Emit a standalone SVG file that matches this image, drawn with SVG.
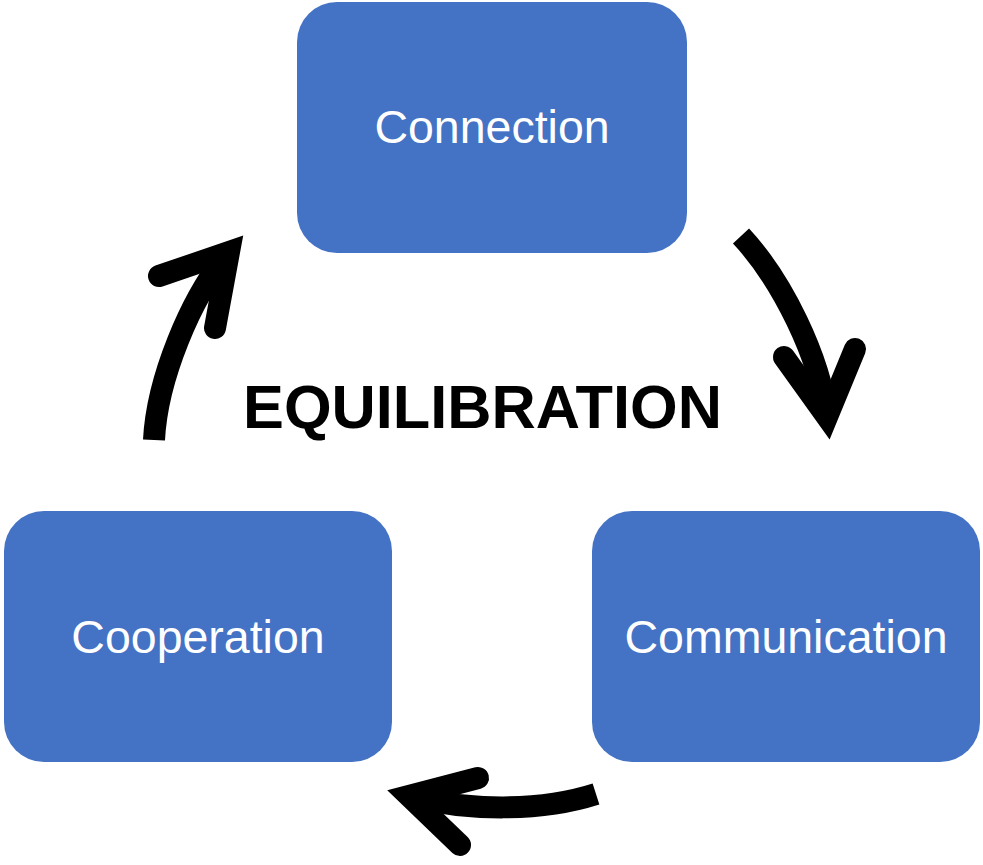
<svg xmlns="http://www.w3.org/2000/svg" width="983" height="865" viewBox="0 0 983 865">
<style>
.box{fill:#4472C4;}
.lbl{font-family:"Liberation Sans",Arial,sans-serif;font-size:46.5px;fill:#ffffff;text-anchor:middle;}
.title{font-family:"Liberation Sans",Arial,sans-serif;font-size:62px;font-weight:bold;fill:#000000;text-anchor:middle;}
.shaft{fill:none;stroke:#000;stroke-width:22;stroke-linecap:butt;}
.head{fill:none;stroke:#000;stroke-width:22;stroke-linecap:round;stroke-linejoin:miter;stroke-miterlimit:10;}
</style>
<rect width="983" height="865" fill="#ffffff"/>
<g id="connection">
<rect class="box" x="297" y="2" width="390" height="251" rx="40" ry="40"/>
<text class="lbl" x="492" y="143">Connection</text>
</g>
<g id="communication">
<rect class="box" x="592" y="511" width="388" height="251" rx="40" ry="40"/>
<text class="lbl" x="786" y="653">Communication</text>
</g>
<g id="cooperation">
<rect class="box" x="4" y="511" width="388" height="251" rx="40" ry="40"/>
<text class="lbl" x="198" y="653">Cooperation</text>
</g>
<g id="equilibration">
<text class="title" x="482.5" y="428" textLength="479" lengthAdjust="spacingAndGlyphs">EQUILIBRATION</text>
</g>
<g id="connectors">
<path class="shaft" d="M741,236 C782,280 820,357 827,417"/>
<polyline class="head" points="784,357 827,417 855,349"/>
<path class="shaft" d="M596,794 C540,812 467,811 409,796"/>
<polyline class="head" points="478,778 409,796 460,845"/>
<path class="shaft" d="M154,440 C157,380 190,298 229,252"/>
<polyline class="head" points="159,276 229,252 215,328"/>
</g>
</svg>
